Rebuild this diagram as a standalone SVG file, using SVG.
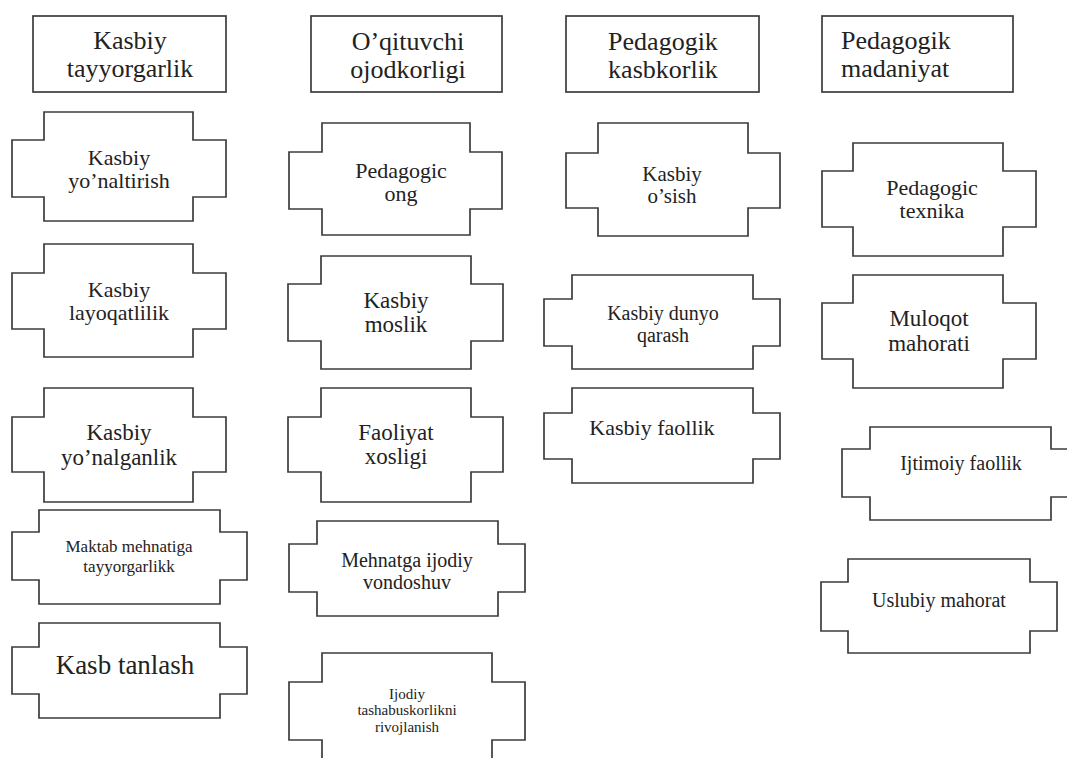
<svg xmlns="http://www.w3.org/2000/svg" width="1067" height="758" viewBox="0 0 1067 758" font-family="'Liberation Serif', 'Times New Roman', 'DejaVu Serif', serif">
<style>
.b{fill:#fff;stroke:#3c3c3c;stroke-width:1.7}
text{font-family:'Liberation Serif','Times New Roman','DejaVu Serif',serif;fill:#222;text-anchor:middle}
.h{font-size:26px}
.l{text-anchor:start}
</style>
<rect width="1067" height="758" fill="#fff"/>
<g id="connectors"></g>
<g id="h1"><rect class="b" x="33" y="16" width="193" height="76"/><text class="h" x="130" y="49">Kasbiy</text><text class="h" x="130" y="77">tayyorgarlik</text></g>
<g id="h2"><rect class="b" x="311" y="16" width="191" height="76"/><text class="h" x="408" y="50">O’qituvchi</text><text class="h" x="408" y="78">ojodkorligi</text></g>
<g id="h3"><rect class="b" x="566" y="16" width="193" height="76"/><text class="h" x="663" y="50">Pedagogik</text><text class="h" x="663" y="78">kasbkorlik</text></g>
<g id="h4"><rect class="b" x="822" y="16" width="191" height="76"/><text class="h l" x="841" y="49">Pedagogik</text><text class="h l" x="841" y="77">madaniyat</text></g>

<g id="c1n1"><path class="b" d="M44 112H193V140H226V197H193V221H44V197H12V140H44Z"/><text x="119" y="165" font-size="22">Kasbiy</text><text x="119" y="188" font-size="22">yo’naltirish</text></g>
<g id="c1n2"><path class="b" d="M44 244H193V273H226V329H193V357H44V329H12V273H44Z"/><text x="119" y="297" font-size="22">Kasbiy</text><text x="119" y="320" font-size="22">layoqatlilik</text></g>
<g id="c1n3"><path class="b" d="M44 388H193V417H226V472H193V502H44V472H12V417H44Z"/><text x="119" y="440" font-size="23">Kasbiy</text><text x="119" y="465" font-size="23">yo’nalganlik</text></g>
<g id="c1n4"><path class="b" d="M39 510H220V532H247V580H220V604H39V580H12V532H39Z"/><text x="129" y="552" font-size="17">Maktab mehnatiga</text><text x="129" y="572" font-size="17">tayyorgarlikk</text></g>
<g id="c1n5"><path class="b" d="M39 623H220V647H247V694H220V718H39V694H12V647H39Z"/><text x="125" y="674" font-size="27">Kasb tanlash</text></g>

<g id="c2n1"><path class="b" d="M322 123H470V152H502V209H470V235H322V209H289V152H322Z"/><text x="401" y="178" font-size="22">Pedagogic</text><text x="401" y="201" font-size="22">ong</text></g>
<g id="c2n2"><path class="b" d="M321 256H471V284H503V341H471V369H321V341H288V284H321Z"/><text x="396" y="308" font-size="23">Kasbiy</text><text x="396" y="332" font-size="23">moslik</text></g>
<g id="c2n3"><path class="b" d="M321 388H471V417H503V472H471V502H321V472H288V417H321Z"/><text x="396" y="440" font-size="23">Faoliyat</text><text x="396" y="464" font-size="23">xosligi</text></g>
<g id="c2n4"><path class="b" d="M317 521H498V544H525V592H498V616H317V592H289V544H317Z"/><text x="407" y="567" font-size="20">Mehnatga ijodiy</text><text x="407" y="589" font-size="20">vondoshuv</text></g>
<g id="c2n5"><path class="b" d="M322 653H492V682H525V740H492V765H322V740H289V682H322Z"/><text x="407" y="699" font-size="15">Ijodiy</text><text x="407" y="715" font-size="15">tashabuskorlikni</text><text x="407" y="732" font-size="15">rivojlanish</text></g>

<g id="c3n1"><path class="b" d="M598 123H748V153H780V208H748V236H598V208H566V153H598Z"/><text x="672" y="181" font-size="21">Kasbiy</text><text x="672" y="203" font-size="21">o’sish</text></g>
<g id="c3n2"><path class="b" d="M572 275H753V299H780V346H753V369H572V346H544V299H572Z"/><text x="663" y="320" font-size="20">Kasbiy dunyo</text><text x="663" y="342" font-size="20">qarash</text></g>
<g id="c3n3"><path class="b" d="M572 388H753V413H780V459H753V483H572V459H544V413H572Z"/><text x="652" y="435" font-size="22">Kasbiy faollik</text></g>

<g id="c4n1"><path class="b" d="M853 143H1003V171H1036V227H1003V256H853V227H822V171H853Z"/><text x="932" y="195" font-size="22">Pedagogic</text><text x="932" y="218" font-size="22">texnika</text></g>
<g id="c4n2"><path class="b" d="M853 275H1003V303H1036V359H1003V388H853V359H822V303H853Z"/><text x="929" y="326" font-size="23">Muloqot</text><text x="929" y="351" font-size="23">mahorati</text></g>
<g id="c4n3"><path class="b" d="M870 427H1051V449H1080V497H1051V520H870V497H842V449H870Z"/><text x="961" y="470" font-size="20">Ijtimoiy faollik</text></g>
<g id="c4n4"><path class="b" d="M848 559H1030V582H1057V631H1030V653H848V631H821V582H848Z"/><text x="939" y="607" font-size="20">Uslubiy mahorat</text></g>
</svg>
